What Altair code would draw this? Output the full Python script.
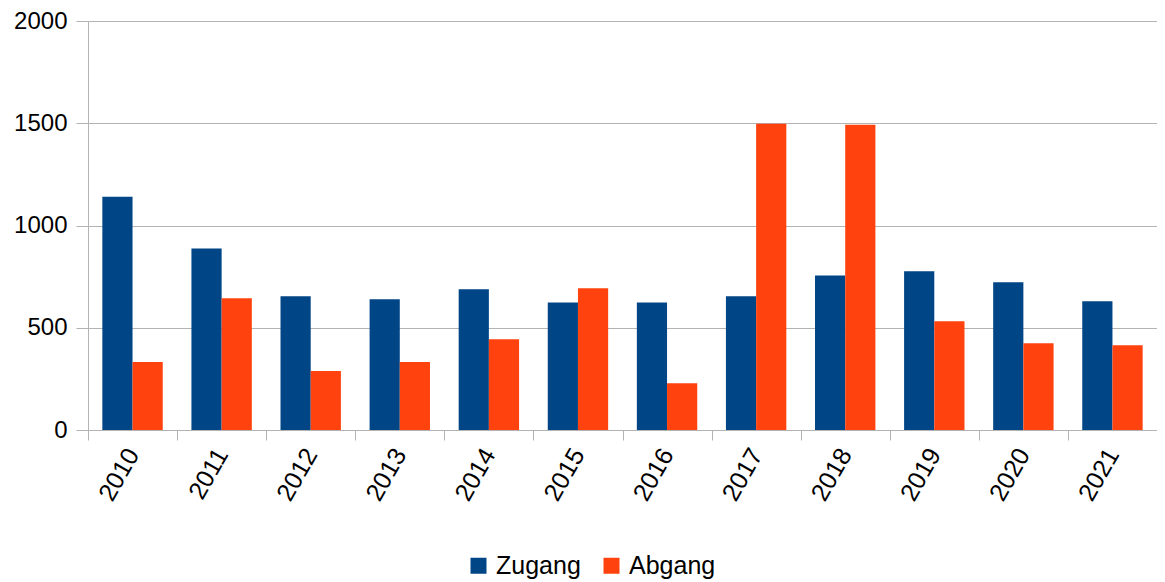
import altair as alt
import pandas as pd

years = [str(y) for y in range(2010, 2022)]
zugang = [1141, 888, 654, 639, 688, 624, 624, 654, 756, 776, 722, 629]
abgang = [332, 644, 288, 332, 444, 693, 229, 1498, 1493, 532, 424, 415]
series = ["Zugang", "Abgang"]
colors = ["#004586", "#ff420e"]
y_ticks = [0, 500, 1000, 1500, 2000]

rows = []
for i, y in enumerate(years):
    rows.append({"Jahr": y, "Serie": "Zugang", "Wert": zugang[i]})
    rows.append({"Jahr": y, "Serie": "Abgang", "Wert": abgang[i]})
df = pd.DataFrame(rows)

grey = "#b3b3b3"

chart = alt.Chart(df).mark_bar().encode(
    x=alt.X(
        "Jahr:N",
        sort=years,
        scale=alt.Scale(paddingInner=0, paddingOuter=0),
        axis=alt.Axis(
            title=None,
            labelAngle=-60,
            labelFontSize=25,
            labelColor="#000000",
            tickBand="extent",
            tickSize=10,
            tickColor=grey,
            domainColor=grey,
            grid=False,
            labelPadding=10,
        ),
    ),
    xOffset=alt.XOffset(
        "Serie:N", sort=series, scale=alt.Scale(paddingInner=0, paddingOuter=0.475)
    ),
    y=alt.Y(
        "Wert:Q",
        scale=alt.Scale(domain=[0, 2000]),
        axis=alt.Axis(
            title=None,
            values=y_ticks,
            format="d",
            labelFontSize=24,
            labelColor="#000000",
            tickSize=12,
            tickColor=grey,
            domainColor=grey,
            gridColor=grey,
            labelPadding=9,
        ),
    ),
    color=alt.Color(
        "Serie:N",
        sort=series,
        scale=alt.Scale(domain=series, range=colors),
        legend=alt.Legend(
            title=None,
            orient="none",
            direction="horizontal",
            legendX=378,
            legendY=532,
            symbolType="square",
            symbolSize=256,
            symbolStrokeWidth=0,
            labelFontSize=25,
            labelColor="#000000",
            labelOffset=5,
            columnPadding=18,
        ),
    ),
).properties(
    width=1069,
    height=409,
    autosize=alt.AutoSizeParams(type="none"),
    padding={"left": 80, "top": 13, "right": 0, "bottom": 150},
).configure(
    font="Liberation Sans"
).configure_view(
    strokeWidth=0
)

chart.save("out.html", embed_options={"renderer": "svg", "actions": False})
